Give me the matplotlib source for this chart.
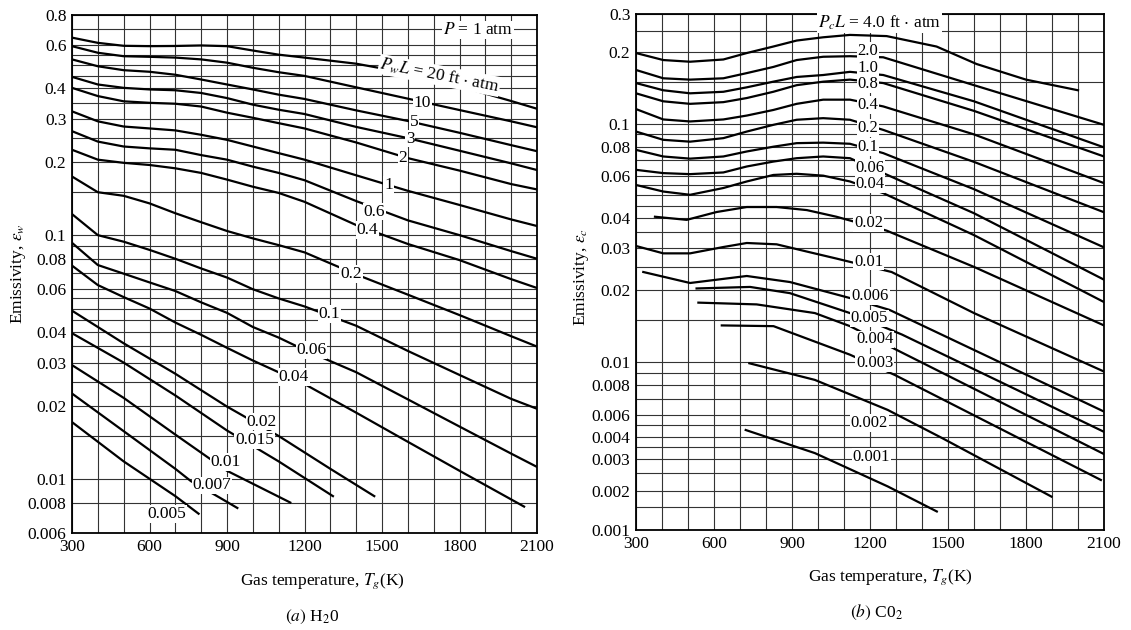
import numpy as np
import matplotlib
matplotlib.use("Agg")
import matplotlib.pyplot as plt
from matplotlib.ticker import NullFormatter

plt.rcParams.update({
    "font.family": ["Liberation Serif", "DejaVu Serif"],
    "mathtext.fontset": "stix",
    "font.size": 12.5,
    "axes.linewidth": 1.3,
})

# ---------------- (a) H2O, P = 1 atm ----------------
h2o_T = [300, 400, 500, 600, 700, 800, 900, 1000, 1100, 1200, 1400, 1600, 1800, 2000, 2100]
h2o_20 = [0.646, 0.615, 0.598, 0.596, 0.597, 0.600, 0.596, 0.572, 0.550, 0.535, 0.505, 0.462, 0.408, 0.355, 0.330]
h2o_10 = [0.596, 0.560, 0.542, 0.539, 0.535, 0.526, 0.510, 0.486, 0.466, 0.450, 0.404, 0.363, 0.326, 0.293, 0.277]
h2o_5 = [0.526, 0.493, 0.475, 0.468, 0.455, 0.435, 0.415, 0.396, 0.377, 0.362, 0.325, 0.294, 0.263, 0.234, 0.221]
h2o_3 = [0.446, 0.415, 0.402, 0.396, 0.393, 0.383, 0.365, 0.343, 0.327, 0.314, 0.278, 0.250, 0.222, 0.197, 0.185]
h2o_2 = [0.402, 0.372, 0.354, 0.349, 0.346, 0.337, 0.318, 0.303, 0.288, 0.274, 0.240, 0.207, 0.184, 0.162, 0.154]
h2o_1 = [0.322, 0.293, 0.279, 0.274, 0.269, 0.258, 0.246, 0.231, 0.217, 0.204, 0.176, 0.152, 0.133, 0.116, 0.109]
h2o_06 = [0.267, 0.242, 0.231, 0.227, 0.224, 0.213, 0.204, 0.191, 0.180, 0.168, 0.138, 0.115, 0.100, 0.086, 0.080]
h2o_04 = [0.224, 0.204, 0.198, 0.194, 0.188, 0.180, 0.169, 0.158, 0.149, 0.137, 0.110, 0.092, 0.079, 0.066, 0.0607]
h2o_02 = [0.174, 0.150, 0.145, 0.135, 0.123, 0.113, 0.104, 0.097, 0.091, 0.085, 0.069, 0.057, 0.047, 0.0385, 0.0349]
h2o_01 = [0.122, 0.100, 0.094, 0.087, 0.080, 0.073, 0.067, 0.060, 0.055, 0.051, 0.0425, 0.0335, 0.0267, 0.0213, 0.0194]
h2o_006 = [0.093, 0.0754, 0.0695, 0.064, 0.059, 0.053, 0.048, 0.042, 0.038, 0.0338, 0.0274, 0.0212, 0.0164, 0.0127, 0.0112]
h2o_004_T = [300, 400, 500, 600, 700, 800, 900, 1000, 1200, 1400, 1600, 1800, 2050]
h2o_004 = [0.075, 0.0624, 0.0557, 0.050, 0.0438, 0.039, 0.0345, 0.0306, 0.0245, 0.0187, 0.0142, 0.0108, 0.0077]
h2o_002_T = [300, 500, 700, 900, 1100, 1300, 1470]
h2o_002 = [0.049, 0.036, 0.027, 0.0198, 0.0150, 0.0110, 0.0085]
h2o_0015_T = [300, 500, 700, 900, 1100, 1310]
h2o_0015 = [0.0396, 0.030, 0.022, 0.0158, 0.0118, 0.0085]
h2o_001_T = [300, 500, 700, 900, 1145]
h2o_001 = [0.0293, 0.0215, 0.0152, 0.0108, 0.0080]
h2o_0007_T = [300, 500, 700, 760, 870, 940]
h2o_0007 = [0.0224, 0.0157, 0.0110, 0.0098, 0.0084, 0.0076]
h2o_0005_T = [300, 500, 700, 790]
h2o_0005 = [0.0171, 0.0118, 0.0085, 0.0072]

h2o_curves = [
    (h2o_T, h2o_20), (h2o_T, h2o_10), (h2o_T, h2o_5), (h2o_T, h2o_3), (h2o_T, h2o_2),
    (h2o_T, h2o_1), (h2o_T, h2o_06), (h2o_T, h2o_04), (h2o_T, h2o_02), (h2o_T, h2o_01),
    (h2o_T, h2o_006), (h2o_004_T, h2o_004), (h2o_002_T, h2o_002), (h2o_0015_T, h2o_0015),
    (h2o_001_T, h2o_001), (h2o_0007_T, h2o_0007), (h2o_0005_T, h2o_0005),
]
h2o_labels = ["10", "5", "3", "2", "1", "0.6", "0.4", "0.2", "0.1", "0.06", "0.04",
              "0.02", "0.015", "0.01", "0.007", "0.005"]
h2o_label_T = [1657, 1623, 1609, 1581, 1526, 1470, 1443, 1380, 1296, 1227, 1158,
               1034, 1006, 896, 841, 668]
h2o_label_eps = [0.349, 0.292, 0.249, 0.208, 0.161, 0.125, 0.105, 0.0693, 0.0474, 0.0338, 0.0262,
                 0.0172, 0.0144, 0.0117, 0.0094, 0.0072]
h2o_yticks = [0.8, 0.6, 0.4, 0.3, 0.2, 0.1, 0.08, 0.06, 0.04, 0.03, 0.02, 0.01, 0.008, 0.006]
h2o_ygrid = [0.7, 0.55, 0.5, 0.45, 0.35, 0.25, 0.15, 0.09, 0.07, 0.055, 0.05, 0.045,
             0.035, 0.025, 0.015]

# ---------------- (b) CO2 ----------------
co2_40_T = [300, 405, 508, 636, 726, 828, 918, 1020, 1123, 1264, 1456, 1610, 1800, 2000]
co2_40 = [0.198, 0.185, 0.182, 0.186, 0.198, 0.212, 0.226, 0.234, 0.240, 0.237, 0.212, 0.178, 0.153, 0.138]
co2_T = [300, 405, 508, 636, 726, 828, 918, 1020, 1123, 1251, 1600, 2100]
co2_20 = [0.168, 0.155, 0.153, 0.155, 0.163, 0.173, 0.185, 0.191, 0.192, 0.190, 0.145, 0.0987]
co2_10 = [0.148, 0.138, 0.134, 0.136, 0.142, 0.150, 0.157, 0.160, 0.165, 0.160, 0.124, 0.0794]
co2_08 = [0.134, 0.124, 0.121, 0.123, 0.128, 0.136, 0.145, 0.150, 0.153, 0.148, 0.113, 0.0727]
co2_04 = [0.115, 0.104, 0.102, 0.104, 0.108, 0.114, 0.121, 0.126, 0.126, 0.118, 0.090, 0.0562]
co2_02 = [0.0925, 0.0854, 0.0839, 0.0868, 0.0925, 0.0987, 0.1037, 0.1053, 0.1037, 0.094, 0.069, 0.0424]
co2_01 = [0.0775, 0.0727, 0.0712, 0.0727, 0.0763, 0.0799, 0.0827, 0.0831, 0.0822, 0.0751, 0.053, 0.0302]
co2_006 = [0.0639, 0.0619, 0.0613, 0.0623, 0.0660, 0.0692, 0.0715, 0.0727, 0.0715, 0.0619, 0.042, 0.0221]
co2_004 = [0.0552, 0.0518, 0.0502, 0.0536, 0.0571, 0.0608, 0.0615, 0.0604, 0.0571, 0.0510, 0.034, 0.0178]
co2_002_T = [373, 495, 610, 726, 841, 957, 1071, 1264, 1600, 2100]
co2_002 = [0.0406, 0.0394, 0.0425, 0.0446, 0.0446, 0.0433, 0.0406, 0.0355, 0.025, 0.0142]
co2_001_T = [300, 405, 508, 636, 726, 841, 957, 1071, 1283, 1600, 2100]
co2_001 = [0.0306, 0.0285, 0.0285, 0.0303, 0.0315, 0.0311, 0.0290, 0.0271, 0.0238, 0.016, 0.0091]
co2_0006_T = [328, 508, 726, 892, 1123, 1275, 2100]
co2_0006 = [0.0238, 0.0214, 0.0229, 0.0216, 0.0185, 0.0165, 0.0062]
co2_0005_T = [533, 739, 892, 1123, 1323, 2100]
co2_0005 = [0.0203, 0.0206, 0.0194, 0.0160, 0.0130, 0.0044]
co2_0004_T = [540, 764, 988, 1123, 1303, 2100]
co2_0004 = [0.0177, 0.0174, 0.0160, 0.0141, 0.0112, 0.0032]
co2_0003_T = [630, 829, 1123, 1296, 2088]
co2_0003 = [0.0142, 0.0141, 0.0107, 0.0088, 0.0023]
co2_0002_T = [736, 988, 1268, 1478, 1898]
co2_0002 = [0.00985, 0.0084, 0.0063, 0.00394, 0.00181]
co2_0001_T = [722, 988, 1268, 1457]
co2_0001 = [0.00455, 0.00324, 0.00212, 0.00139]

co2_curves = [
    (co2_40_T, co2_40), (co2_T, co2_20), (co2_T, co2_10), (co2_T, co2_08), (co2_T, co2_04),
    (co2_T, co2_02), (co2_T, co2_01), (co2_T, co2_006), (co2_T, co2_004),
    (co2_002_T, co2_002), (co2_001_T, co2_001), (co2_0006_T, co2_0006), (co2_0005_T, co2_0005),
    (co2_0004_T, co2_0004), (co2_0003_T, co2_0003), (co2_0002_T, co2_0002), (co2_0001_T, co2_0001),
]
co2_labels = ["2.0", "1.0", "0.8", "0.4", "0.2", "0.1", "0.06", "0.04", "0.02", "0.01",
              "0.006", "0.005", "0.004", "0.003", "0.002", "0.001"]
co2_label_T = [1192, 1192, 1192, 1192, 1192, 1192, 1200, 1200, 1195, 1195,
               1200, 1198, 1219, 1219, 1198, 1205]
co2_label_eps = [0.203, 0.172, 0.147, 0.120, 0.0959, 0.0799, 0.0649, 0.0556, 0.0381, 0.0263,
                 0.0189, 0.0152, 0.0124, 0.00985, 0.00517, 0.00309]
co2_yticks = [0.3, 0.2, 0.1, 0.08, 0.06, 0.04, 0.03, 0.02, 0.01, 0.008, 0.006, 0.004,
              0.003, 0.002, 0.001]
co2_ygrid = [0.25, 0.15, 0.09, 0.07, 0.055, 0.05, 0.045, 0.035, 0.025, 0.015, 0.009,
             0.007, 0.005, 0.0035, 0.0025, 0.0015]

# the printed CO2 emissivity axis is not a clean log scale: pixel height of each printed tick
co2_axis_vals = [0.001, 0.002, 0.003, 0.004, 0.006, 0.008, 0.01, 0.1, 0.2, 0.3]
co2_axis_px = [530, 491, 459, 437, 415, 385, 361.7, 123.5, 52, 14]

_lg = np.log10(co2_axis_vals)
_pp = -np.asarray(co2_axis_px, float)


def _extrap(x, xs, ys):
    y = np.interp(x, xs, ys)
    lo_s = (ys[1] - ys[0]) / (xs[1] - xs[0])
    hi_s = (ys[-1] - ys[-2]) / (xs[-1] - xs[-2])
    y = np.where(x < xs[0], ys[0] + (x - xs[0]) * lo_s, y)
    y = np.where(x > xs[-1], ys[-1] + (x - xs[-1]) * hi_s, y)
    return y


def co2_fwd(v):
    v = np.asarray(v, float)
    with np.errstate(divide="ignore", invalid="ignore"):
        lv = np.log10(np.where(v > 0, v, np.nan))
    return _extrap(lv, _lg, _pp)


def co2_inv(p):
    p = np.asarray(p, float)
    return 10 ** _extrap(p, _pp, _lg)


T_major = [300, 600, 900, 1200, 1500, 1800, 2100]
T_grid = list(range(400, 2100, 100))

fig = plt.figure(figsize=(11.31, 6.30), dpi=100)
ax_w = fig.add_axes([72 / 1131, 1 - 533 / 630, 465 / 1131, 518 / 630])
ax_c = fig.add_axes([636 / 1131, 1 - 530 / 630, 468 / 1131, 516 / 630])

ax_w.set_yscale("log")
ax_c.set_yscale("function", functions=(co2_fwd, co2_inv))
ax_w.set_ylim(0.006, 0.8)
ax_c.set_ylim(0.001, 0.3)

label_box = dict(boxstyle="square,pad=0.05", fc="white", ec="none")

for ax, yt, yg in ((ax_w, h2o_yticks, h2o_ygrid), (ax_c, co2_yticks, co2_ygrid)):
    ax.set_xlim(300, 2100)
    ax.set_xticks(T_major)
    ax.set_xticks(T_grid, minor=True)
    ax.set_yticks(yt)
    ax.set_yticklabels([f"{v:g}" for v in yt])
    ax.set_yticks(yg, minor=True)
    ax.yaxis.set_minor_formatter(NullFormatter())
    ax.tick_params(which="both", length=0, pad=4, labelsize=12.5)
    ax.grid(which="both", color="0.2", lw=0.8)
    ax.set_axisbelow(True)
    for s in ax.spines.values():
        s.set_color("black")

for T, eps in h2o_curves:
    ax_w.plot(T, eps, color="black", lw=1.6)
for T, eps in co2_curves:
    ax_c.plot(T, eps, color="black", lw=1.6)

for s, t, e in zip(h2o_labels, h2o_label_T, h2o_label_eps):
    ax_w.text(t, e, s, ha="center", va="center", fontsize=12.5, bbox=label_box, zorder=5)
for s, t, e in zip(co2_labels, co2_label_T, co2_label_eps):
    ax_c.text(t, e, s, ha="center", va="center", fontsize=12, bbox=label_box, zorder=5)

ax_w.text(1722, 0.452, r"$P_wL$ = 20 ft $\cdot$ atm", ha="center", va="center",
          rotation=-11, fontsize=12.5, bbox=label_box, zorder=5)
ax_w.text(1872, 0.694, r"$P$ = 1 atm", ha="center", va="center", fontsize=12.5,
          bbox=label_box, zorder=5)
ax_c.text(1238, 0.272, r"$P_cL$ = 4.0 ft $\cdot$ atm", ha="center", va="center",
          fontsize=12.5, bbox=label_box, zorder=5)

ax_w.set_ylabel(r"Emissivity, $\varepsilon_w$", fontsize=12.5)
ax_w.yaxis.set_label_coords(-0.095, 0.5)
ax_c.set_ylabel(r"Emissivity, $\varepsilon_c$", fontsize=12.5)
ax_c.yaxis.set_label_coords(-0.096, 0.49)
ax_w.set_xlabel(r"Gas temperature, $T_g$(K)", fontsize=12.5)
ax_w.xaxis.set_label_coords(0.538, -0.075)
ax_c.set_xlabel(r"Gas temperature, $T_g$(K)", fontsize=12.5)
ax_c.xaxis.set_label_coords(0.543, -0.072)

fig.text(312 / 1131, 1 - 617 / 630, r"$(a)$ H$_2$0", ha="center", va="center", fontsize=12.5)
fig.text(877 / 1131, 1 - 612 / 630, r"$(b)$ C0$_2$", ha="center", va="center", fontsize=12.5)

fig.savefig("out.png", dpi=100)
